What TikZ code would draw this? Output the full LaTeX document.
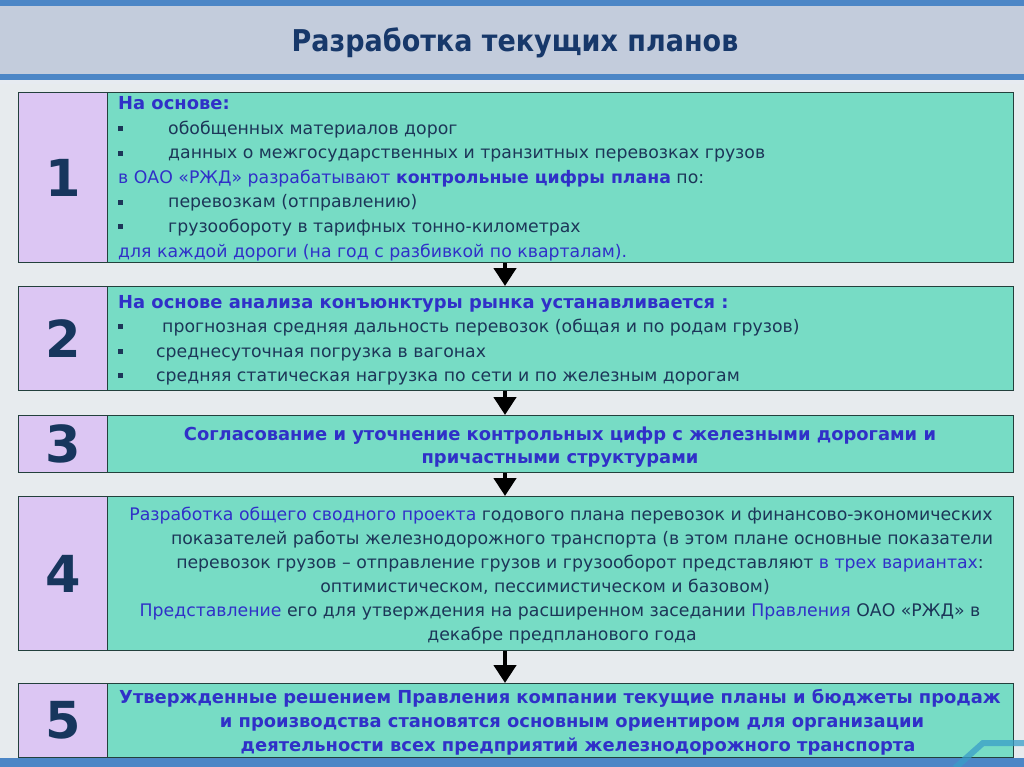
\documentclass[tikz,border=0pt]{standalone}
\usepackage{fontspec}
\setmainfont{DejaVu Sans}
\newfontfamily\titlefont[FakeStretch=0.9]{DejaVu Sans}
\usetikzlibrary{arrows.meta}
\definecolor{bgcol}{HTML}{E7EBEE}
\definecolor{headcol}{HTML}{C3CCDC}
\definecolor{stripecol}{HTML}{4C86C6}
\definecolor{decocol}{HTML}{3A9EC8}
\definecolor{lav}{HTML}{DCC6F3}
\definecolor{teal}{HTML}{77DCC5}
\definecolor{edgecol}{HTML}{23403C}
\definecolor{numcol}{HTML}{17365D}
\definecolor{titlecol}{HTML}{17386A}
\definecolor{bluetxt}{HTML}{3030C8}
\definecolor{darktxt}{HTML}{1C3658}
\newcommand{\bul}[1]{\makebox[#1][l]{\rule[3.4pt]{4.5pt}{5pt}}}
\newcommand{\bt}[1]{\textcolor{bluetxt}{#1}}
\begin{document}
\begin{tikzpicture}[x=1pt,y=-1pt,
  numbox/.style={draw=edgecol,line width=1.3pt,fill=lav,anchor=north west,minimum width=89pt,
    text=numcol,font=\fontsize{51}{51}\selectfont\bfseries,inner sep=0pt},
  txtbox/.style={draw=edgecol,line width=1.3pt,fill=teal,anchor=north west,minimum width=906pt,inner sep=0pt},
  ln/.style={anchor=base west,inner sep=0pt,text=darktxt,font=\fontsize{17.3}{20}\selectfont},
  lnc/.style={anchor=base,inner sep=0pt,text=darktxt,font=\fontsize{17.3}{20}\selectfont},
  bhead/.style={anchor=base west,inner sep=0pt,text=bluetxt,font=\fontsize{17.9}{20}\selectfont\bfseries},
  bln/.style={anchor=base,inner sep=0pt,text=bluetxt,font=\fontsize{17.9}{20}\selectfont\bfseries},
  arr/.style={line width=4.5pt,-{Triangle[width=22pt,length=18pt]}}]
\useasboundingbox (0,0) rectangle (1024,767);
\fill[bgcol] (0,0) rectangle (1024,767);
% header
\fill[headcol] (0,0) rectangle (1024,76);
\fill[stripecol] (0,0) rectangle (1024,6);
\fill[stripecol] (0,74) rectangle (1024,80);
\fill[white!60!headcol] (0,80) rectangle (1024,84);
\node[text=titlecol,font=\titlefont\fontsize{30}{32}\selectfont\bfseries] (title) at (515,43) {Разработка текущих планов};
% bottom
\fill[stripecol] (0,758) rectangle (1024,767);
% boxes
\node[numbox,minimum height=170pt] (n1) at (18,92) {1};
\node[txtbox,minimum height=170pt] (t1) at (107,92) {};
\node[numbox,minimum height=104pt] (n2) at (18,286) {2};
\node[txtbox,minimum height=104pt] (t2) at (107,286) {};
\node[numbox,minimum height=57pt] (n3) at (18,415) {3};
\node[txtbox,minimum height=57pt] (t3) at (107,415) {};
\node[numbox,minimum height=154pt] (n4) at (18,496) {4};
\node[txtbox,minimum height=154pt] (t4) at (107,496) {};
\node[numbox,minimum height=74pt] (n5) at (18,683) {5};
\node[txtbox,minimum height=74pt] (t5) at (107,683) {};
% box 1 text
\node[bhead] (a1) at (118,110) {На основе:};
\node[ln] (a2) at (118,134.5) {\bul{50pt}обобщенных материалов дорог};
\node[ln] (a3) at (118,159) {\bul{50pt}данных о межгосударственных и транзитных перевозках грузов};
\node[ln] (a4) at (118,183.5) {\bt{в ОАО «РЖД» разрабатывают \textbf{контрольные цифры плана}} по:};
\node[ln] (a5) at (118,208) {\bul{50pt}перевозкам (отправлению)};
\node[ln] (a6) at (118,232.5) {\bul{50pt}грузообороту в тарифных тонно-километрах};
\node[ln,text=bluetxt] (a7) at (118,257) {для каждой дороги (на год с разбивкой по кварталам).};
% box 2 text
\node[bhead] (b1) at (118,308) {На основе анализа конъюнктуры рынка устанавливается :};
\node[ln] (b2) at (118,332.5) {\bul{44pt}прогнозная средняя дальность перевозок (общая и по родам грузов)};
\node[ln] (b3) at (118,357) {\bul{38pt}среднесуточная погрузка в вагонах};
\node[ln] (b4) at (118,381.5) {\bul{38pt}средняя статическая нагрузка по сети и по железным дорогам};
% box 3 text
\node[bln] (c1) at (560,440) {Согласование и уточнение контрольных цифр с железными дорогами и};
\node[bln] (c2) at (560,463) {причастными структурами};
% box 4 text
\node[lnc] (d1) at (561,520) {\bt{Разработка общего сводного проекта} годового плана перевозок и финансово-экономических};
\node[lnc] (d2) at (582,544) {показателей работы железнодорожного транспорта (в этом плане основные показатели};
\node[lnc] (d3) at (580,568) {перевозок грузов – отправление грузов и грузооборот представляют \bt{в трех вариантах}:};
\node[lnc] (d4) at (545,592) {оптимистическом, пессимистическом и базовом)};
\node[lnc] (d5) at (560,616) {\bt{Представление} его для утверждения на расширенном заседании \bt{Правления} ОАО «РЖД» в};
\node[lnc] (d6) at (562,640) {декабре предпланового года};
% box 5 text
\node[bln] (e1) at (560,703) {Утвержденные решением Правления компании текущие планы и бюджеты продаж};
\node[bln] (e2) at (572,727) {и производства становятся основным ориентиром для организации};
\node[bln] (e3) at (578,751) {деятельности всех предприятий железнодорожного транспорта};
% arrows
\coordinate (ax) at (505,0);
\draw[arr] (t1.south -| ax) -- (t2.north -| ax);
\draw[arr] (t2.south -| ax) -- (t3.north -| ax);
\draw[arr] (t3.south -| ax) -- (t4.north -| ax);
\draw[arr] (t4.south -| ax) -- (t5.north -| ax);
% corner decoration
\draw[decocol,line width=6pt,opacity=0.75] (955,768) -- (983,743) -- (1025,743);
\end{tikzpicture}
\end{document}
